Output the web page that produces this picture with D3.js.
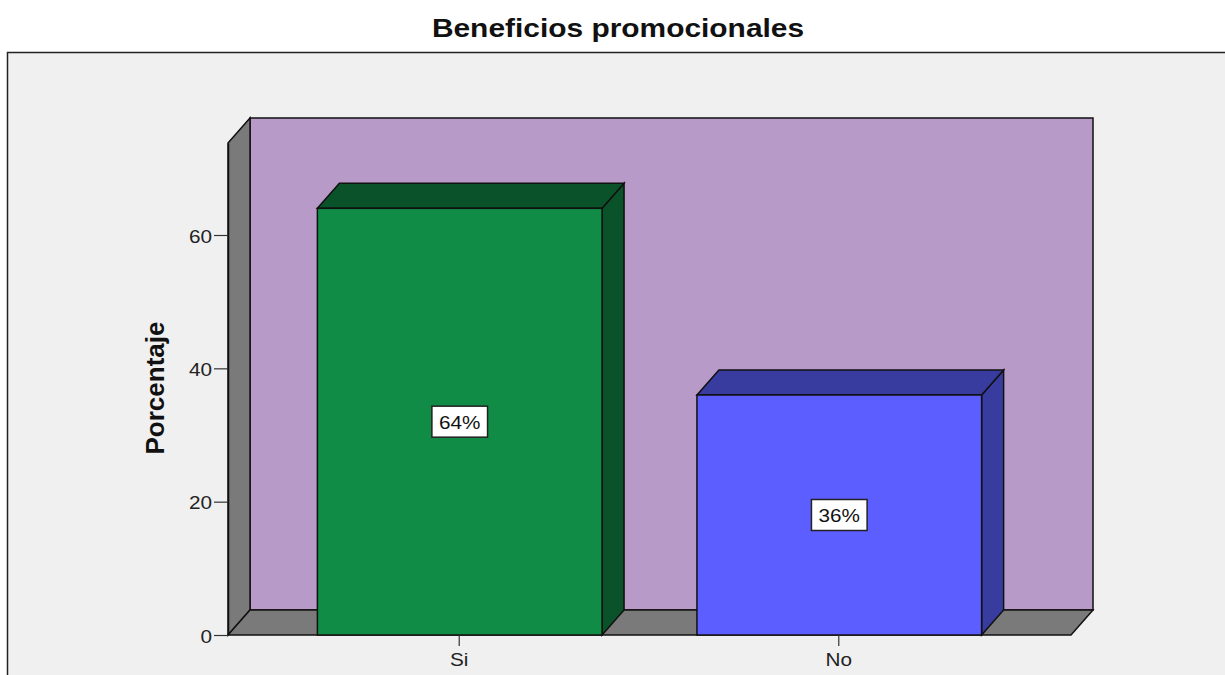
<!DOCTYPE html>
<html>
<head>
<meta charset="utf-8">
<script src="https://cdn.jsdelivr.net/npm/d3@7"></script>
<style>
  html, body { margin: 0; padding: 0; background: #ffffff; }
  svg { display: block; }
</style>
</head>
<body>
<svg id="chart" width="1225" height="675"></svg>
<script>
// Data
const categories = ["Si", "No"];
const values = [64, 36];
const valueLabels = ["64%", "36%"];
const yTicks = [0, 20, 40, 60];
const title = "Beneficios promocionales";
const yTitle = "Porcentaje";

// Colours for front faces and shaded faces of each bar
const frontColors = ["#118c46", "#5c5eff"];
const shadeColors = ["#0a5229", "#383c9e"];

const svg = d3.select("#chart");
const W = 1225, H = 675;
const FONT = "Liberation Sans, Arial, sans-serif";
const STRETCH = 1.15; // glyphs are drawn a little wider than the font's default

// Widen text horizontally by a factor, keeping its anchor
function stretch(sel, k) {
  sel.each(function () {
    const len = this.getComputedTextLength();
    d3.select(this)
      .attr("textLength", len * k)
      .attr("lengthAdjust", "spacingAndGlyphs");
  });
}

// Front plane of the 3D box
const plot = { left: 228, right: 1071, top: 143, bottom: 635 };
const depth = { dx: 22, dy: 25 };

const x = d3.scaleBand()
  .domain(categories)
  .range([plot.left, plot.right])
  .paddingInner(0.25)
  .paddingOuter(0.2355);

const y = d3.scaleLinear()
  .domain([0, 73.8])
  .range([plot.bottom, plot.top]);

// Outer chart frame
svg.append("rect")
  .attr("x", 7.5).attr("y", 52.5)
  .attr("width", W + 20).attr("height", H)
  .attr("fill", "#f0f0f0")
  .attr("stroke", "#222").attr("stroke-width", 1.5);

// Title
svg.append("text")
  .attr("x", 618).attr("y", 37)
  .attr("text-anchor", "middle")
  .attr("font-family", FONT)
  .attr("font-weight", "bold")
  .attr("font-size", 26)
  .attr("fill", "#111")
  .text(title)
  .call(stretch, STRETCH);

const y0 = y(0), yTop = y(y.domain()[1]);

function poly(pts, fill) {
  return svg.append("polygon")
    .attr("points", pts.map(p => p.join(",")).join(" "))
    .attr("fill", fill)
    .attr("stroke", "#111")
    .attr("stroke-width", 1.5)
    .attr("stroke-linejoin", "miter");
}

// Back wall
poly([
  [plot.left + depth.dx, yTop - depth.dy],
  [plot.right + depth.dx, yTop - depth.dy],
  [plot.right + depth.dx, y0 - depth.dy],
  [plot.left + depth.dx, y0 - depth.dy]
], "#b89ac8");

// Left side wall
poly([
  [plot.left, yTop],
  [plot.left + depth.dx, yTop - depth.dy],
  [plot.left + depth.dx, y0 - depth.dy],
  [plot.left, y0]
], "#7a7a7a");

// Floor
poly([
  [plot.left, y0],
  [plot.left + depth.dx, y0 - depth.dy],
  [plot.right + depth.dx, y0 - depth.dy],
  [plot.right, y0]
], "#7a7a7a");

// Bars as 3D boxes
categories.forEach((c, i) => {
  const bx = x(c), bw = x.bandwidth(), by = y(values[i]);
  // side face
  poly([
    [bx + bw, by],
    [bx + bw + depth.dx, by - depth.dy],
    [bx + bw + depth.dx, y0 - depth.dy],
    [bx + bw, y0]
  ], shadeColors[i]);
  // top face
  poly([
    [bx, by],
    [bx + depth.dx, by - depth.dy],
    [bx + bw + depth.dx, by - depth.dy],
    [bx + bw, by]
  ], shadeColors[i]);
  // front face
  svg.append("rect")
    .attr("x", bx).attr("y", by)
    .attr("width", bw).attr("height", y0 - by)
    .attr("fill", frontColors[i])
    .attr("stroke", "#111").attr("stroke-width", 1.5);
});

// Value labels in boxes at mid-height
categories.forEach((c, i) => {
  const cx = x(c) + x.bandwidth() / 2;
  const cy = (y(values[i]) + y0) / 2;
  const g = svg.append("g");
  const t = g.append("text")
    .attr("x", cx).attr("y", cy + 1)
    .attr("text-anchor", "middle")
    .attr("dominant-baseline", "central")
    .attr("font-family", FONT)
    .attr("font-size", 18)
    .attr("fill", "#111")
    .text(valueLabels[i])
    .call(stretch, STRETCH);
  const tw = t.node().getComputedTextLength() * STRETCH;
  const bw = tw + 8, bh = 31;
  g.insert("rect", "text")
    .attr("x", cx - bw / 2).attr("y", cy - bh / 2)
    .attr("width", bw).attr("height", bh)
    .attr("fill", "#ffffff")
    .attr("stroke", "#222").attr("stroke-width", 1.5);
});

// Y axis on the front-left edge
const yAxis = d3.axisLeft(y).tickValues(yTicks).tickSize(14).tickSizeOuter(0).tickPadding(2);
const ya = svg.append("g")
  .attr("transform", `translate(${plot.left},0)`)
  .call(yAxis);
ya.select(".domain").attr("stroke", "#111").attr("stroke-width", 1.5);
ya.selectAll(".tick line").attr("stroke", "#333").attr("stroke-width", 1.2);
ya.selectAll(".tick text")
  .attr("font-family", FONT)
  .attr("font-size", 18)
  .attr("dy", "0.4em")
  .attr("fill", "#222")
  .call(stretch, STRETCH);

// X axis category labels with short ticks
const xAxis = d3.axisBottom(x).tickSize(11).tickSizeOuter(0).tickPadding(7);
const xa = svg.append("g")
  .attr("transform", `translate(-0.5,${y0})`)
  .call(xAxis);
xa.select(".domain").remove();
xa.selectAll(".tick line").attr("stroke", "#333").attr("stroke-width", 1.2);
xa.selectAll(".tick text")
  .attr("font-family", FONT)
  .attr("font-size", 18)
  .attr("fill", "#222")
  .call(stretch, STRETCH);

// Y axis title
svg.append("text")
  .attr("transform", `translate(164,388) rotate(-90)`)
  .attr("text-anchor", "middle")
  .attr("font-family", FONT)
  .attr("font-weight", "bold")
  .attr("font-size", 26)
  .attr("fill", "#111")
  .text(yTitle);
</script>
</body>
</html>
